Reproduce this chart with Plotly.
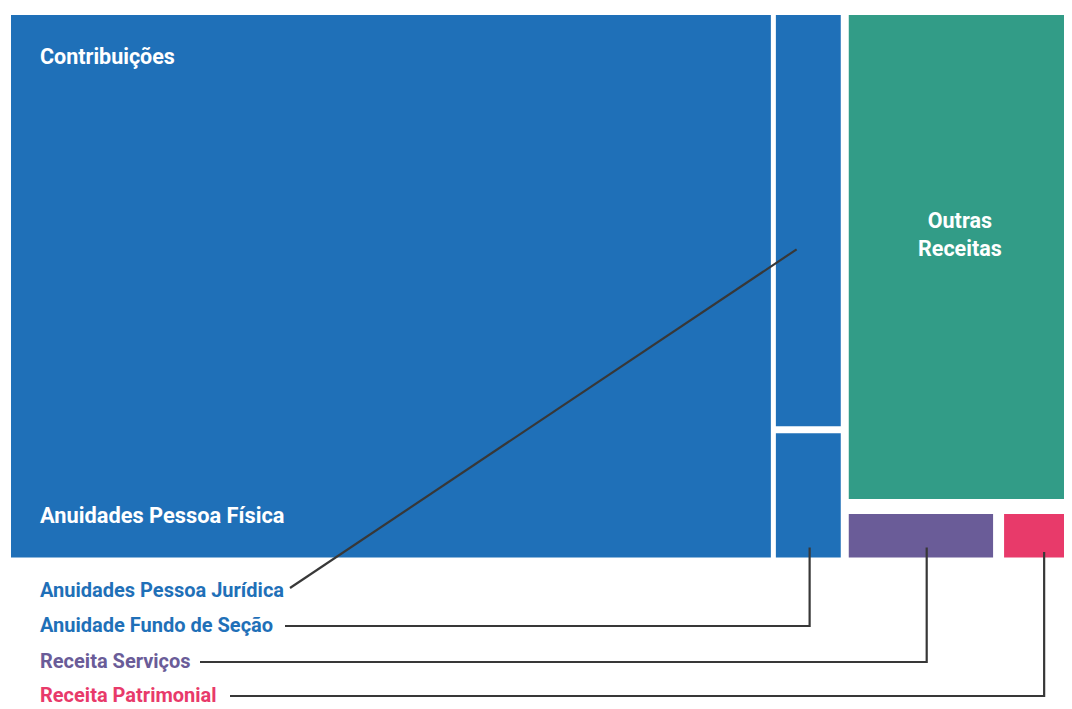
import plotly.graph_objects as go

# ---------------- data ----------------
group_labels = ["Contribuições", "Outras Receitas"]
contrib_labels = ["Anuidades Pessoa Física", "Anuidades Pessoa Jurídica", "Anuidade Fundo de Seção"]
contrib_values = [72.6, 4.76, 1.44]
outras_labels = ["Outras Receitas", "Receita Serviços", "Receita Patrimonial"]
outras_values = [19.45, 1.19, 0.56]

# ---------------- style ----------------
BLUE = "#1f70b8"
GREEN = "#329c87"
PURPLE = "#6a5c98"
PINK = "#e83a6a"
LINE = "#383838"
FONT = "Roboto"
PAGE_OFF = 8                     # browser body margin
W, H = 1072 - PAGE_OFF, 709 - PAGE_OFF
X0, X1, Y0, Y1 = 11, 1072, 15, 557.5
GAP_GROUP, GAP_PF, GAP_PJ, GAP_GREEN, GAP_BOTTOM = 8, 5, 7, 15, 11


def spans(vals, a, b, gap):
    total = sum(vals)
    avail = (b - a) - gap * (len(vals) - 1)
    out, pos = [], a
    for v in vals:
        L = avail * v / total
        out.append((pos, pos + L))
        pos += L + gap
    return out


# hierarchical slice layout (same arrangement as squarify for this data)
(cx, ox) = spans([sum(contrib_values), sum(outras_values)], X0, X1, GAP_GROUP)
pf_x, col_x = spans([contrib_values[0], sum(contrib_values[1:])], cx[0], cx[1], GAP_PF)
pj_y, fu_y = spans(contrib_values[1:], Y0, Y1, GAP_PJ)
gr_y, bot_y = spans([outras_values[0], sum(outras_values[1:])], Y0, Y1, GAP_GREEN)
sv_x, pa_x = spans(outras_values[1:], ox[0], ox[1], GAP_BOTTOM)

rects = {
    contrib_labels[0]: (pf_x[0], pf_x[1], Y0, Y1),
    contrib_labels[1]: (col_x[0], col_x[1], pj_y[0], pj_y[1]),
    contrib_labels[2]: (col_x[0], col_x[1], fu_y[0], fu_y[1]),
    outras_labels[0]: (ox[0], ox[1], gr_y[0], gr_y[1]),
    outras_labels[1]: (sv_x[0], sv_x[1], bot_y[0], bot_y[1]),
    outras_labels[2]: (pa_x[0], pa_x[1], bot_y[0], bot_y[1]),
}
colors = {
    contrib_labels[0]: BLUE, contrib_labels[1]: BLUE, contrib_labels[2]: BLUE,
    outras_labels[0]: GREEN, outras_labels[1]: PURPLE, outras_labels[2]: PINK,
}
values = dict(zip(contrib_labels + outras_labels, contrib_values + outras_values))

names = list(rects.keys())
fig = go.Figure()
fig.add_trace(go.Bar(
    x=[(rects[n][0] + rects[n][1]) / 2 for n in names],
    width=[rects[n][1] - rects[n][0] for n in names],
    base=[rects[n][2] for n in names],
    y=[rects[n][3] - rects[n][2] for n in names],
    marker=dict(color=[colors[n] for n in names], line=dict(width=0)),
    customdata=[[n, values[n]] for n in names],
    hovertemplate="%{customdata[0]}: %{customdata[1]}%<extra></extra>",
    showlegend=False,
))

# ---------------- labels inside cells ----------------
ann = []
pf = rects[contrib_labels[0]]
gr = rects[outras_labels[0]]
ann.append(dict(x=pf[0] + 26.5, y=pf[2] + 41, text="<b>" + group_labels[0] + "</b>",
                xanchor="left", yanchor="middle", font=dict(family=FONT, size=21.5, color="white")))
ann.append(dict(x=pf[0] + 26.5, y=pf[3] - 42, text="<b>" + contrib_labels[0] + "</b>",
                xanchor="left", yanchor="middle", font=dict(family=FONT, size=21.8, color="white")))
ann.append(dict(x=(gr[0] + gr[1]) / 2, y=gr[2] + 219,
                text="<b>" + group_labels[1].replace(" ", "<br>") + "</b>",
                xanchor="center", yanchor="middle", align="center",
                font=dict(family=FONT, size=21.5, color="white")))

# ---------------- external labels with leader lines ----------------
ext = [contrib_labels[1], contrib_labels[2], outras_labels[1], outras_labels[2]]
ext_y = [590, 625, 661, 695]
line_start_x = [290, 285, 200, 230]
anchor_frac = [(0.32, 0.57), (0.52, None), (0.54, None), (0.59, None)]
anchor_off = [0, 10, 10, 5.5]

for name, ly, sx, (fx, fy), off in zip(ext, ext_y, line_start_x, anchor_frac, anchor_off):
    r = rects[name]
    px = r[0] + fx * (r[1] - r[0])
    if fy is not None:
        py = r[2] + fy * (r[3] - r[2])
        xs, ys = [sx, px], [ly - 2, py]
    else:
        py = r[3] - off
        xs, ys = [sx, px, px], [ly + 1, ly + 1, py]
    fig.add_trace(go.Scatter(x=xs, y=ys, mode="lines", line=dict(color=LINE, width=2.2),
                             hoverinfo="skip", showlegend=False))
    ann.append(dict(x=37.5, y=ly, text="<b>" + name + "</b>", xanchor="left", yanchor="middle",
                    font=dict(family=FONT, size=20, color=colors[name])))

for a in ann:
    a.update(xref="x", yref="y", showarrow=False)

fig.update_layout(
    width=W, height=H,
    margin=dict(l=0, r=0, t=0, b=0),
    paper_bgcolor="white", plot_bgcolor="white",
    barmode="overlay",
    xaxis=dict(range=[PAGE_OFF, PAGE_OFF + W], visible=False, fixedrange=True),
    yaxis=dict(range=[PAGE_OFF + H, PAGE_OFF], visible=False, fixedrange=True),
    annotations=ann,
)

fig.write_html("out.html")
